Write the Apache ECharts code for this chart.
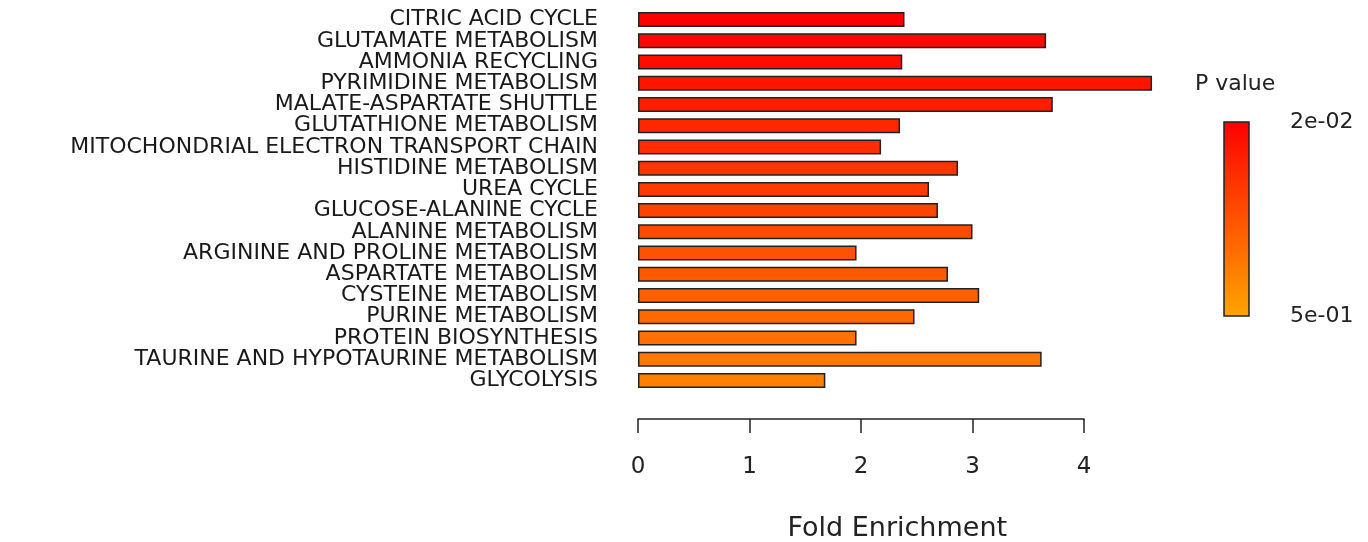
<!DOCTYPE html>
<html>
<head>
<meta charset="utf-8">
<script src="https://cdn.jsdelivr.net/npm/echarts@6/dist/echarts.min.js"></script>
<style>html,body{margin:0;padding:0;background:#fff}#c{width:1368px;height:542px}</style>
</head>
<body>
<div id="c"></div>
<script>
const pathways = [
  'CITRIC ACID CYCLE','GLUTAMATE METABOLISM','AMMONIA RECYCLING','PYRIMIDINE METABOLISM',
  'MALATE-ASPARTATE SHUTTLE','GLUTATHIONE METABOLISM','MITOCHONDRIAL ELECTRON TRANSPORT CHAIN',
  'HISTIDINE METABOLISM','UREA CYCLE','GLUCOSE-ALANINE CYCLE','ALANINE METABOLISM',
  'ARGININE AND PROLINE METABOLISM','ASPARTATE METABOLISM','CYSTEINE METABOLISM',
  'PURINE METABOLISM','PROTEIN BIOSYNTHESIS','TAURINE AND HYPOTAURINE METABOLISM','GLYCOLYSIS'
];
const foldEnrichment = [2.39,3.66,2.37,4.61,3.72,2.35,2.18,2.87,2.61,2.69,3.00,1.96,2.78,3.06,2.48,1.96,3.62,1.68];
const pValues = [0.020,0.043,0.058,0.078,0.107,0.131,0.151,0.171,0.195,0.215,0.238,0.259,0.282,0.302,0.325,0.346,0.369,0.392];
const xTicks = [0,1,2,3,4];
const legendLabels = ['2e-02','5e-01'];
const pRange = [0.02, 0.5];
const colorRange = ['#FF0000','#FFA500'];

const FONT = 'DejaVu Sans';
const source = pathways.map((p,i)=>[p, foldEnrichment[i], pValues[i]]);

const chart = echarts.init(document.getElementById('c'), null, {renderer:'canvas'});
chart.setOption({
  animation:false,
  backgroundColor:'#ffffff',
  dataset:{source: source},
  grid:[
    {left:638, top:9, width:518.5, height:382, containLabel:false, outerBoundsMode:'none'},
    {left:638, top:418, width:446, height:1, containLabel:false, outerBoundsMode:'none'}
  ],
  xAxis:[
    {gridIndex:0, type:'value', min:0, max:4.65,
     axisLine:{show:false}, axisTick:{show:false}, axisLabel:{show:false}, splitLine:{show:false},
     name:'Fold Enrichment', nameLocation:'middle', nameGap:124,
     nameTextStyle:{fontFamily:FONT, fontSize:27, color:'#222'}},
    {gridIndex:1, type:'value', min:xTicks[0], max:xTicks[xTicks.length-1], interval:1, position:'bottom',
     axisLine:{show:true, lineStyle:{color:'#222', width:1.5}},
     axisTick:{show:true, length:14, lineStyle:{color:'#222', width:1.5}},
     axisLabel:{show:true, margin:37, fontFamily:FONT, fontSize:23, color:'#222',
       formatter:(v)=> xTicks.includes(v) ? String(v) : ''},
     splitLine:{show:false}}
  ],
  yAxis:[
    {gridIndex:0, type:'category', inverse:true,
     axisLine:{show:false}, axisTick:{show:false},
     axisLabel:{interval:0, margin:40, padding:[4,0,0,0], fontFamily:FONT, fontSize:22, color:'#1a1a1a'}},
    {gridIndex:1, type:'value', show:false}
  ],
  visualMap:{type:'continuous', show:false, dimension:2, min:pRange[0], max:pRange[1], seriesIndex:0,
    inRange:{color:colorRange}},
  series:[{
    type:'bar', xAxisIndex:0, yAxisIndex:0, encode:{x:1, y:0},
    barWidth:15,
    itemStyle:{borderColor:'#222', borderWidth:1.5}
  }],
  graphic:[
    {type:'text', left:1195, top:73, style:{text:'P value', font:'22px "DejaVu Sans"', fill:'#222'}},
    {type:'rect', shape:{x:1224, y:122, width:25, height:194},
     style:{fill:new echarts.graphic.LinearGradient(0,0,0,1,[{offset:0,color:colorRange[0]},{offset:1,color:colorRange[1]}]),
            stroke:'#222', lineWidth:1.5}},
    {type:'text', left:1290, top:111, style:{text:legendLabels[0], font:'22px "DejaVu Sans"', fill:'#222'}},
    {type:'text', left:1290, top:305, style:{text:legendLabels[1], font:'22px "DejaVu Sans"', fill:'#222'}}
  ]
});
</script>
</body>
</html>
